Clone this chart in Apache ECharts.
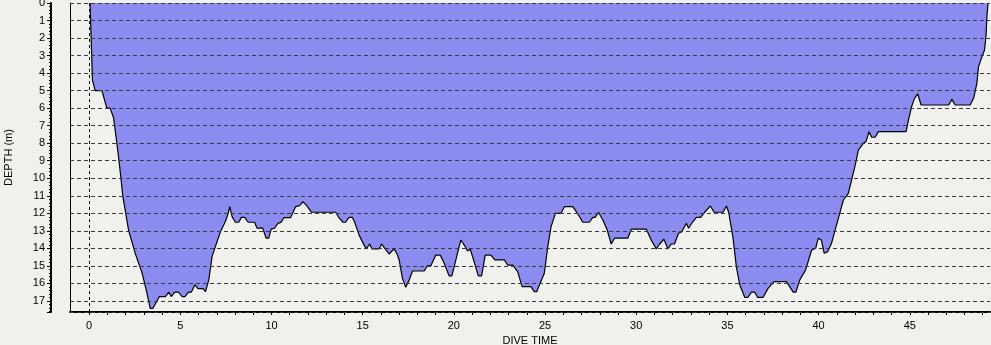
<!DOCTYPE html>
<html>
<head>
<meta charset="utf-8">
<script src="https://cdn.jsdelivr.net/npm/echarts@6/dist/echarts.min.js"></script>
<style>
html,body{margin:0;padding:0;background:#f0f0ec;}
#chart{width:991px;height:345px;}
</style>
</head>
<body>
<div id="chart"></div>
<script>
const diveTime = [0.05,0.1,0.18,0.33,0.7,0.97,1.15,1.34,1.52,1.67,1.85,2.16,2.53,2.9,3.13,3.35,3.5,3.85,4.18,4.37,4.5,4.7,4.9,5.1,5.25,5.45,5.6,5.8,5.97,6.24,6.38,6.56,6.74,6.92,7.2,7.47,7.6,7.71,7.84,8.02,8.2,8.35,8.53,8.72,9.07,9.21,9.52,9.71,9.85,9.98,10.16,10.35,10.53,10.68,11.04,11.32,11.54,11.72,11.93,12.2,13.52,13.7,13.92,14.06,14.25,14.43,14.56,14.8,15.07,15.2,15.38,15.51,15.9,16.04,16.23,16.45,16.55,16.72,16.9,17.0,17.18,17.36,17.55,17.73,18.37,18.55,18.73,19.01,19.25,19.47,19.74,19.89,20.11,20.38,20.6,20.75,20.9,21.08,21.34,21.52,21.72,22.03,22.25,22.77,22.95,23.23,23.5,23.74,24.23,24.41,24.54,24.69,24.96,25.15,25.33,25.57,25.88,26.06,26.52,26.8,27.07,27.43,27.62,27.75,27.93,28.17,28.41,28.63,28.81,29.54,29.73,30.55,30.82,31.1,31.28,31.52,31.74,31.92,32.1,32.32,32.5,32.75,32.87,33.08,33.3,33.53,33.75,34.07,34.27,34.76,34.95,35.07,35.31,35.49,35.68,35.95,36.13,36.32,36.5,36.65,36.96,37.23,37.56,38.24,38.42,38.61,38.75,38.97,39.29,39.62,39.84,39.98,40.15,40.31,40.49,40.71,41.0,41.36,41.63,41.81,42.03,42.18,42.46,42.6,42.77,42.91,43.1,43.28,44.8,44.93,45.1,45.26,45.44,45.62,47.13,47.31,47.49,48.31,48.5,48.68,48.77,48.96,49.1,49.18,49.23,49.29];
const depth = [0,1.7,4.4,5.0,5.0,6.0,6.0,6.55,8.0,9.3,11.05,12.95,14.3,15.4,16.37,17.42,17.42,16.75,16.75,16.5,16.75,16.5,16.5,16.75,16.75,16.5,16.5,16.07,16.3,16.3,16.47,15.8,14.47,13.9,13.05,12.47,12.09,11.62,12.19,12.51,12.51,12.23,12.23,12.51,12.51,12.85,12.85,13.42,13.42,12.9,12.85,12.57,12.5,12.25,12.25,11.62,11.56,11.33,11.56,11.94,11.94,12.25,12.51,12.51,12.23,12.23,12.5,13.23,13.8,14.03,13.75,14.03,14.03,13.75,14.03,14.32,14.32,14.03,14.35,14.66,15.71,16.22,15.8,15.29,15.29,15.0,15.0,14.38,14.38,14.85,15.57,15.57,14.66,13.52,13.86,14.15,14.05,14.66,15.57,15.57,14.38,14.38,14.66,14.66,14.95,14.95,15.33,16.18,16.18,16.47,16.47,16.09,15.42,13.9,12.76,12.0,12.0,11.62,11.62,12.04,12.51,12.51,12.23,12.23,11.94,12.38,12.95,13.75,13.42,13.42,12.9,12.9,13.52,14.03,13.75,13.48,14.03,13.75,13.75,13.14,13.05,12.57,12.85,12.51,12.23,12.23,11.94,11.58,11.94,11.94,11.58,11.94,13.42,15.04,16.09,16.79,16.79,16.5,16.5,16.79,16.79,16.28,15.9,15.9,16.2,16.5,16.5,15.8,15.23,14.09,14.0,13.42,13.52,14.28,14.2,13.71,12.6,11.24,10.86,10.1,9.15,8.39,8.0,7.9,7.34,7.66,7.66,7.34,7.34,6.67,5.91,5.44,5.19,5.82,5.82,5.5,5.82,5.82,5.44,4.58,3.63,3.06,2.68,1.92,0.78,0];
const xLabels = [0,5,10,15,20,25,30,35,40,45];
const xTicks = Array.from({length:50},(_,i)=>i);
const yLabels = [0,1,2,3,4,5,6,7,8,9,10,11,12,13,14,15,16,17];

const font = 'Liberation Sans, Arial, sans-serif';
const chart = echarts.init(document.getElementById('chart'), null, {renderer:'canvas'});
chart.setOption({
  backgroundColor:'#f0f0ec',
  animation:false,
  grid:{left:70,right:1,top:3,bottom:33,containLabel:false,outerBoundsMode:'none'},
  xAxis:{
    type:'value', min:-1.05, max:49.4,
    name:'DIVE TIME', nameLocation:'middle', nameGap:21,
    nameTextStyle:{color:'#000',fontSize:11,fontFamily:font},
    axisLine:{show:true,onZero:false,lineStyle:{color:'#000',width:2}},
    axisTick:{show:true,length:3,inside:false,customValues:xTicks,lineStyle:{color:'#000'}},
    axisLabel:{color:'#000',fontSize:11,fontFamily:font,margin:8,customValues:xLabels},
    splitLine:{show:false}
  },
  yAxis:[{
    type:'value', inverse:true, min:0, max:17.63, interval:1,
    position:'left', offset:19, z:5,
    name:'DEPTH (m)', nameLocation:'middle', nameGap:37, nameRotate:90,
    nameTextStyle:{color:'#000',fontSize:11,fontFamily:font},
    axisLine:{show:true,onZero:false,lineStyle:{color:'#000',width:2}},
    axisTick:{show:true,length:4,lineStyle:{color:'#000'}},
    minorTick:{show:true,splitNumber:5,length:2,lineStyle:{color:'#000'}},
    axisLabel:{color:'#000',fontSize:11,fontFamily:font,margin:6,customValues:yLabels},
    splitLine:{show:true,lineStyle:{color:'#3a3a3a',width:1,type:[4,3]}}
  },{
    type:'value', inverse:true, min:0, max:17.63, position:'left', offset:0,
    axisLine:{show:true,onZero:false,lineStyle:{color:'#000',width:1}},
    axisTick:{show:false}, axisLabel:{show:false}, splitLine:{show:false}
  }],
  series:[{
    type:'line', yAxisIndex:0,
    data: diveTime.map((t,i)=>[t, depth[i]]),
    showSymbol:false, symbol:'none', z:1,
    lineStyle:{color:'#000',width:1.2},
    areaStyle:{color:'#8c8cf0',opacity:1,origin:'start'},
    markLine:{
      silent:true, symbol:'none', label:{show:false},
      lineStyle:{color:'#000',type:[3,3],width:1},
      data:[{xAxis:0}]
    }
  }]
});
</script>
</body>
</html>
